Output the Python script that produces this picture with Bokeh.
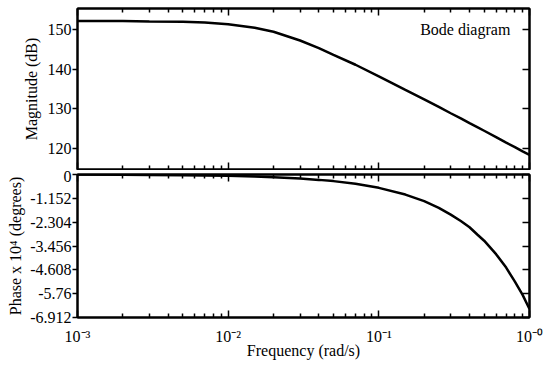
from bokeh.plotting import figure
from bokeh.models import LogAxis, LinearAxis, FixedTicker, Range1d, Label
from bokeh.layouts import column
from bokeh.embed import file_html
from bokeh.resources import INLINE

# ---- data ----
freq = [0.001, 0.002, 0.003, 0.005, 0.007, 0.01, 0.015, 0.02, 0.03, 0.04, 0.05,
        0.07, 0.1, 0.15, 0.2, 0.25, 0.3, 0.35, 0.4, 0.45, 0.5, 0.6, 0.7, 0.8, 0.9, 1.0]
magnitude_db = [152.1, 152.1, 152.0, 151.9, 151.7, 151.3, 150.4, 149.4, 147.2, 145.3, 143.6,
                141.1, 138.2, 134.8, 132.4, 130.5, 128.9, 127.6, 126.4, 125.4, 124.5, 122.9,
                121.5, 120.4, 119.3, 118.4]
phase_e4 = [-0.006, -0.013, -0.019, -0.032, -0.045, -0.065, -0.097, -0.13, -0.194, -0.26, -0.32,
            -0.45, -0.645, -0.97, -1.29, -1.61, -1.94, -2.25, -2.55, -2.9, -3.2, -3.85,
            -4.5, -5.18, -5.82, -6.5]

x_major = [0.001, 0.01, 0.1, 1.0]
x_major_labels = ["10\u207b\u00b3", "10\u207b\u00b2", "10\u207b\u00b9", "10\u207b\u2070"]
x_minor = [m * d for d in (0.001, 0.01, 0.1) for m in range(2, 10)]
mag_ticks = [120, 130, 140, 150]
mag_tick_labels = ["120", "130", "140", "150"]
phase_ticks = [0, -1.152, -2.304, -3.456, -4.608, -5.76, -6.912]
phase_tick_labels = ["0", "-1.152", "-2.304", "-3.456", "-4.608", "-5.76", "-6.912"]

FONT = "Liberation Serif"
FS = "16px"
W = 550


def style_axis(ax, ticks, labels=None, tick_out=False):
    ax.axis_line_color = "black"
    ax.axis_line_width = 2
    ax.major_tick_line_color = "black"
    ax.major_tick_line_width = 1.5
    ax.minor_tick_line_color = "black"
    ax.minor_tick_line_width = 1.5
    if tick_out:
        ax.major_tick_out = 5
        ax.major_tick_in = 0
    else:
        ax.major_tick_out = 0
        ax.major_tick_in = 7
    ax.minor_tick_out = 0
    ax.minor_tick_in = 4
    ax.major_label_text_font = FONT
    ax.axis_label_text_font = FONT
    ax.axis_label_text_font_style = "normal"
    ax.axis_label_text_font_size = FS
    ax.axis_label_text_color = "black"
    if labels is not None:
        ax.major_label_overrides = {t: s for t, s in zip(ticks, labels)}
        ax.major_label_text_font_size = FS
        ax.major_label_text_color = "black"
        ax.major_label_standoff = 1
    else:
        ax.major_label_text_color = None
        ax.major_label_standoff = 0
        ax.axis_label_standoff = 0


def x_axis(labels):
    ax = LogAxis(ticker=FixedTicker(ticks=x_major, minor_ticks=x_minor))
    style_axis(ax, x_major, x_major_labels if labels else None)
    return ax


def y_axis(ticks, labels=None, tick_out=False):
    ax = LinearAxis(ticker=FixedTicker(ticks=ticks))
    style_axis(ax, ticks, labels, tick_out=tick_out)
    return ax


def base_fig(height, y_range, bt, bb):
    p = figure(width=W, height=height, x_axis_type="log",
               x_range=Range1d(0.001, 1.0), y_range=y_range,
               x_axis_location=None, y_axis_location=None,
               output_backend="svg", toolbar_location=None,
               min_border_left=77, min_border_right=21,
               min_border_top=bt, min_border_bottom=bb)
    p.grid.visible = False
    p.outline_line_color = "black"
    p.outline_line_width = 2
    p.background_fill_color = "white"
    p.border_fill_color = "white"
    return p


# ---- magnitude panel ----
p1 = base_fig(170, Range1d(114.75, 155.25), 8, 1)
p1.line(freq, magnitude_db, line_color="black", line_width=2.5)
ay = y_axis(mag_ticks, mag_tick_labels, tick_out=True)
ay.axis_label = "Magnitude (dB)"
ay.axis_label_standoff = 5
p1.add_layout(ay, "left")
p1.add_layout(y_axis(mag_ticks), "right")
p1.add_layout(x_axis(False), "below")
p1.add_layout(x_axis(False), "above")
p1.add_layout(Label(x=0.746, y=150.0, text="Bode diagram", text_align="right",
                    text_baseline="middle", text_font=FONT, text_font_size=FS,
                    text_color="black"))

# ---- phase panel ----
p2 = base_fig(195, Range1d(-6.912, 0), 4, 48)
p2.line(freq, phase_e4, line_color="black", line_width=2.5)
py = y_axis(phase_ticks, phase_tick_labels, tick_out=True)
py.axis_label = "Phase x 10\u2074 (degrees)"
py.axis_label_standoff = 3
p2.add_layout(py, "left")
p2.add_layout(y_axis(phase_ticks), "right")
bx = x_axis(True)
bx.major_label_standoff = 10
bx.axis_label = "Frequency (rad/s)"
bx.axis_label_standoff = -6
p2.add_layout(bx, "below")
p2.add_layout(x_axis(False), "above")

layout = column(p1, p2, spacing=0)
open("out.html", "w").write(file_html(layout, INLINE))
